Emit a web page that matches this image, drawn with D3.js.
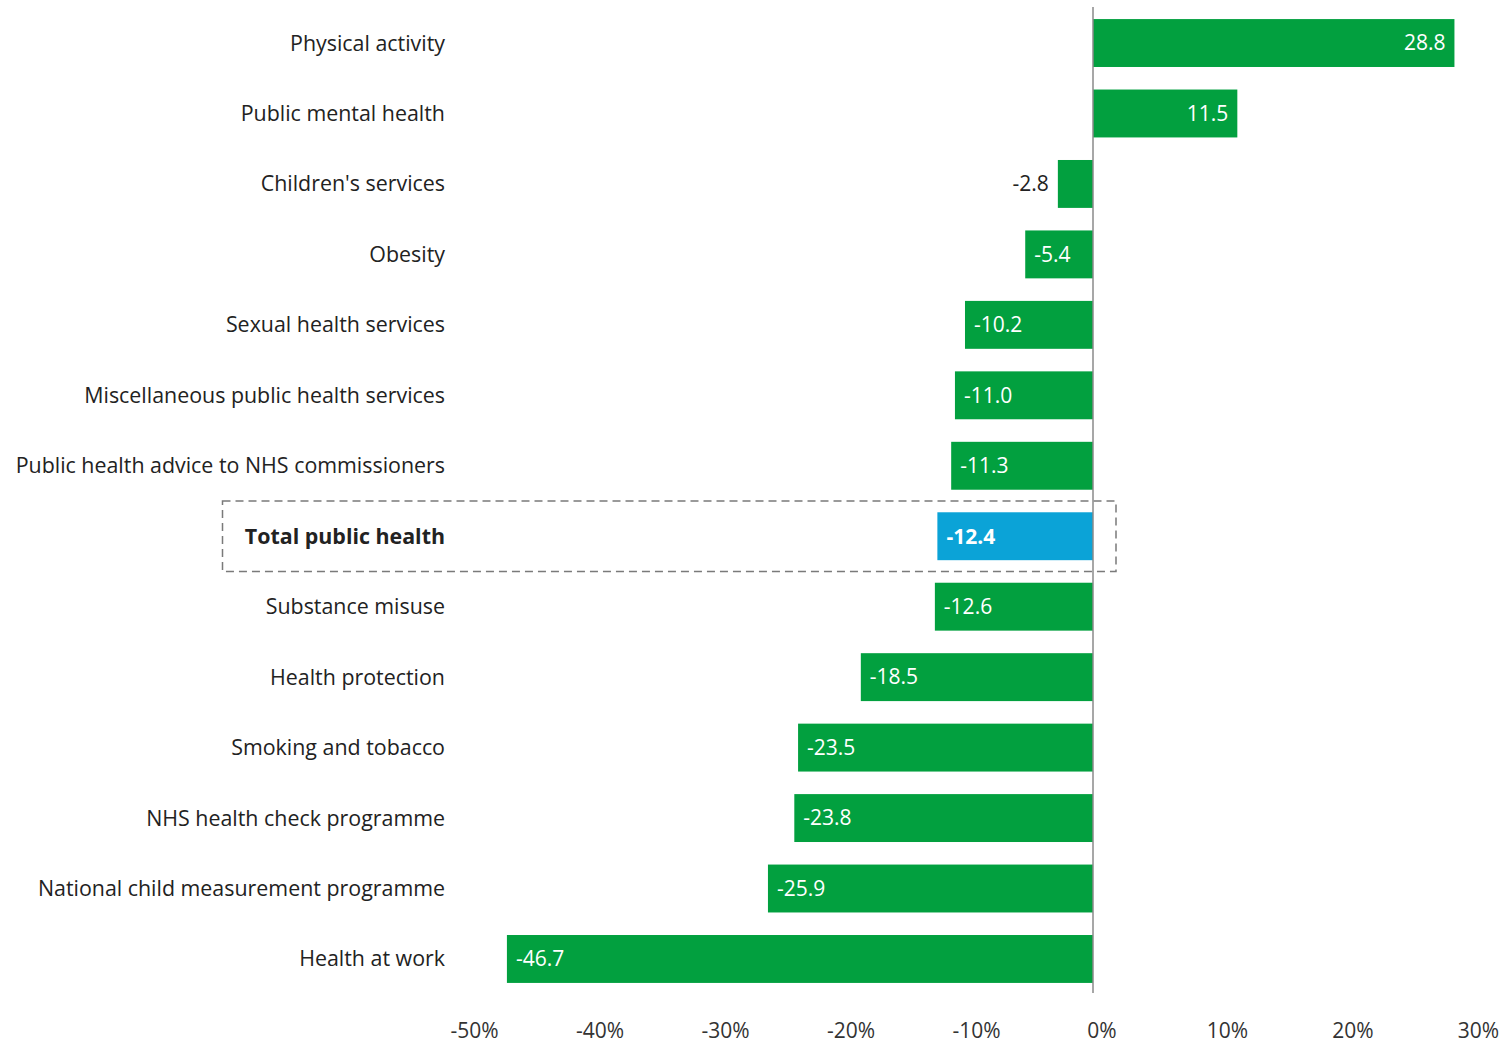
<!DOCTYPE html>
<html>
<head>
<meta charset="utf-8">
<script src="https://cdn.jsdelivr.net/npm/d3@7"></script>
<style>
  body { margin: 0; background: #fff; }
  svg text { font-family: "Open Sans", sans-serif; }
</style>
</head>
<body>
<div id="chart"></div>
<script>
// categories top to bottom, with change in spend (%)
let categories = [
    "Physical activity",
    "Public mental health",
    "Children's services",
    "Obesity",
    "Sexual health services",
    "Miscellaneous public health services",
    "Public health advice to NHS commissioners",
    "Total public health",
    "Substance misuse",
    "Health protection",
    "Smoking and tobacco",
    "NHS health check programme",
    "National child measurement programme",
    "Health at work"
];
let values = [28.8, 11.5, -2.8, -5.4, -10.2, -11.0, -11.3, -12.4, -12.6, -18.5, -23.5, -23.8, -25.9, -46.7];
let tickValues = [-50, -40, -30, -20, -10, 0, 10, 20, 30];
let highlight = "Total public health";

let width = 1504;
let height = 1043;

let green = "#02a03f";
let blue = "#0ba3d7";

let svg = d3.select("#chart")
    .append("svg")
    .attr("width", width)
    .attr("height", height);

let x = d3.scaleLinear()
    .domain([-50, 30])
    .range([465.5, 1469.5]);

let y = d3.scaleBand()
    .domain(categories)
    .range([7.8, 994.2])
    .paddingInner(0.32)
    .paddingOuter(0.16);

let data = categories.map(function(c, i) {
    return { category: c, value: values[i] };
});

// dashed box round the total row
svg.append("rect")
    .attr("x", 222.5)
    .attr("y", y(highlight) + y.bandwidth() / 2 - y.step() / 2)
    .attr("width", x(0) + 23 - 222.5)
    .attr("height", y.step())
    .attr("fill", "none")
    .attr("stroke", "#7a7a7a")
    .attr("stroke-width", 1.5)
    .attr("stroke-dasharray", "8,5");

// bars
svg.selectAll(".bar")
    .data(data)
    .enter()
    .append("rect")
    .attr("class", "bar")
    .attr("x", d => x(Math.min(0, d.value)))
    .attr("y", d => y(d.category))
    .attr("width", d => Math.abs(x(d.value) - x(0)))
    .attr("height", y.bandwidth())
    .attr("fill", d => d.category === highlight ? blue : green);

// zero line
svg.append("line")
    .attr("x1", x(0))
    .attr("x2", x(0))
    .attr("y1", 7)
    .attr("y2", 993)
    .attr("stroke", "#8a8a8a")
    .attr("stroke-width", 1.5);

// category labels
svg.selectAll(".cat")
    .data(data)
    .enter()
    .append("text")
    .attr("class", "cat")
    .attr("x", 445)
    .attr("y", d => y(d.category) + y.bandwidth() / 2)
    .attr("dy", "0.35em")
    .attr("text-anchor", "end")
    .attr("font-size", 21.4)
    .attr("font-weight", d => d.category === highlight ? "bold" : "normal")
    .attr("fill", "#222")
    .text(d => d.category);

// value labels: inside the bar at its far end, outside if the bar is too short
svg.selectAll(".val")
    .data(data)
    .enter()
    .append("text")
    .attr("class", "val")
    .attr("x", function(d) {
        let w = Math.abs(x(d.value) - x(0));
        if (w < 50) return x(d.value) - 9;
        return d.value < 0 ? x(d.value) + 9 : x(d.value) - 9;
    })
    .attr("y", d => y(d.category) + y.bandwidth() / 2)
    .attr("dy", "0.35em")
    .attr("text-anchor", function(d) {
        let w = Math.abs(x(d.value) - x(0));
        if (w < 50) return "end";
        return d.value < 0 ? "start" : "end";
    })
    .attr("font-size", 21)
    .attr("font-weight", d => d.category === highlight ? "bold" : "normal")
    .attr("fill", d => Math.abs(x(d.value) - x(0)) < 50 ? "#222" : "#fff")
    .text(d => d.value.toFixed(1));

// x axis tick labels
svg.selectAll(".tick-label")
    .data(tickValues)
    .enter()
    .append("text")
    .attr("class", "tick-label")
    .attr("x", d => x(d) + 9)
    .attr("y", 1031)
    .attr("dy", "0.35em")
    .attr("text-anchor", "middle")
    .attr("font-size", 21)
    .attr("fill", "#333")
    .text(d => d + "%");
</script>
</body>
</html>
